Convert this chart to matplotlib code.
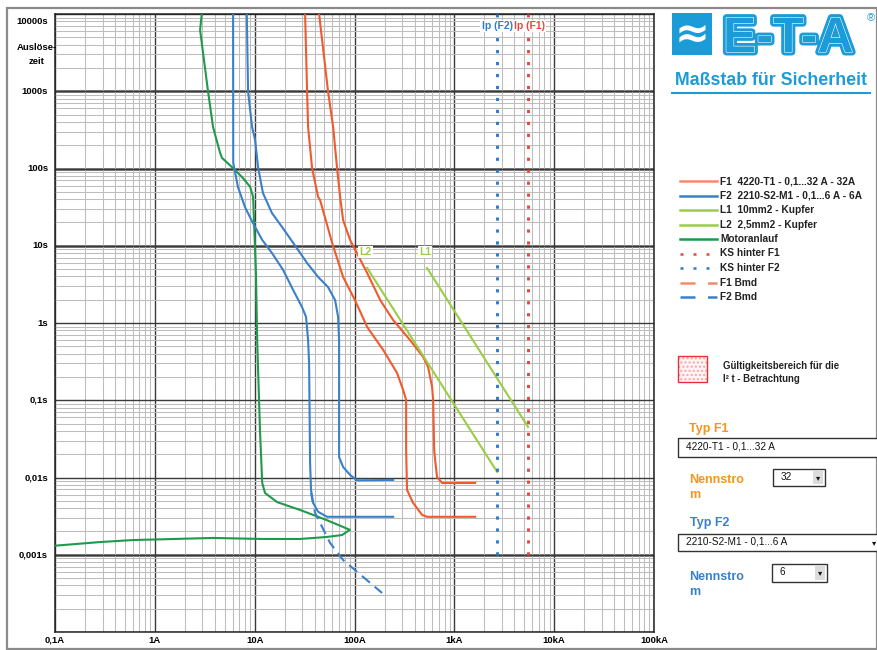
import matplotlib
matplotlib.use('Agg')
import matplotlib.pyplot as plt
from matplotlib.patches import Rectangle
from matplotlib.lines import Line2D
import matplotlib.transforms as mtransforms
import matplotlib.patheffects as pe

plt.rcParams['font.family'] = ['Liberation Sans', 'DejaVu Sans']

# ---- data (current in A, time in s) ----
motor_I = [2.95, 2.84, 3.41, 3.83, 4.5, 4.71, 6.08, 7.65, 9.0, 9.64, 9.86, 10.3, 10.6, 11.3,
           11.9, 12.7, 16.8, 28.5, 53.0, 90.0, 75.0, 53.0, 28.5, 12.1, 3.83, 0.605, 0.283, 0.093]
motor_t = [10000, 6200, 1000, 344, 160, 137, 101, 75, 58, 43, 20, 4.4, 0.6, 0.041,
           0.0085, 0.0063, 0.0048, 0.0038, 0.0028, 0.0021, 0.0018, 0.0017, 0.0016, 0.0016,
           0.00165, 0.00155, 0.00146, 0.0013]

f2_min_I = [6.08, 6.1, 6.8, 8.0, 9.6, 11.9, 14.9, 19.3, 24.3, 29.8, 32.7, 34.3, 35.1, 35.9,
            36.7, 38.5, 43.2, 53.0, 244]
f2_min_t = [10000, 118, 57.6, 31.7, 19.7, 11.9, 8.05, 4.85, 2.67, 1.61, 1.2, 0.6, 0.3, 0.0154,
            0.0069, 0.0047, 0.0036, 0.0031, 0.0031]
f2_max_I = [8.34, 8.59, 9.42, 10.1, 10.8, 12.1, 14.9, 18.8, 24.3, 33.5, 43.2, 54.3, 63.9, 68.5,
            70.1, 70.1, 76.9, 90.3, 106, 244]
f2_max_t = [10000, 1000, 344, 234, 105, 48.2, 26.5, 17.5, 10.9, 5.98, 3.94, 2.92, 1.98, 1.2,
            0.6, 0.0184, 0.0137, 0.0108, 0.0092, 0.0093]
f2_bmd_I = [36.7, 40.3, 57.0, 76.9, 189]
f2_bmd_t = [0.0063, 0.00347, 0.00142, 0.000855, 0.00032]

f1_min_I = [32.0, 33.5, 34.3, 37.6, 43.2, 45.2, 59.7, 76.9, 101, 134, 194, 267, 307, 329,
            329, 336, 386, 476, 534, 1616]
f1_min_t = [10000, 1000, 344, 101, 42.8, 39.1, 10.9, 3.94, 1.98, 0.887, 0.447, 0.225, 0.136,
            0.101, 0.0227, 0.0069, 0.0047, 0.00327, 0.0031, 0.0031]
f1_max_I = [44.2, 54.3, 61.1, 66.9, 71.8, 76.9, 90.3, 134, 181, 244, 361, 487, 546, 599, 613,
            628, 642, 672, 754, 1616]
f1_max_t = [10000, 1000, 344, 101, 42.8, 21.5, 11.9, 4.43, 1.98, 1.09, 0.6, 0.363, 0.269,
            0.148, 0.101, 0.0227, 0.0169, 0.0101, 0.0085, 0.0085]

l1_I = [533, 5480]
l1_t = [5.15, 0.045]
l2_I = [134, 2685]
l2_t = [5.15, 0.0118]

ip_f2 = 2685
ip_f1 = 5480
ip_t = [0.001, 10000]

x_ticks = [0.1, 1, 10, 100, 1000, 10000, 100000]
x_labels = ['0,1A', '1A', '10A', '100A', '1kA', '10kA', '100kA']
y_ticks = [10000, 1000, 100, 10, 1, 0.1, 0.01, 0.001]
y_labels = ['10000s', '1000s', '100s', '10s', '1s', '0,1s', '0,01s', '0,001s']

legend_labels = ['F1  4220-T1 - 0,1...32 A - 32A', 'F2  2210-S2-M1 - 0,1...6 A - 6A',
                 'L1  10mm2 - Kupfer', 'L2  2,5mm2 - Kupfer', 'Motoranlauf',
                 'KS hinter F1', 'KS hinter F2', 'F1 Bmd', 'F2 Bmd']

RED = '#f05a2c'
RED_LIGHT = '#f5896a'
BLUE = '#3a80c9'
GREEN = '#1f9a4c'
LGREEN = '#9bcd45'
DOT_RED = '#e8473b'
DOT_BLUE = '#2b7bd0'
ORANGE = '#f7941d'
LOGO = '#1b9bd7'

legend_styles = [(RED_LIGHT, '-'), (BLUE, '-'), (LGREEN, '-'), (LGREEN, '-'), (GREEN, '-'),
                 (DOT_RED, (0, (1.2, 4))), (DOT_BLUE, (0, (1.2, 4))),
                 (RED_LIGHT, (0, (6, 5))), (BLUE, (0, (6, 5)))]

W, H = 878, 650


def fx(px):
    return px / W


def fy(py):
    return 1 - py / H


fig = plt.figure(figsize=(8.78, 6.5), dpi=100)
ax = fig.add_axes([fx(55), fy(632), fx(654) - fx(55), fy(14) - fy(632)])
ax.set_xscale('log')
ax.set_yscale('log')
ax.set_xlim(0.1, 1e5)
ax.set_ylim(1e-4, 1e4)
ax.grid(which='minor', color='#bdbdbd', lw=0.75)
ax.grid(which='major', color='#3a3a3a', lw=1.0)
for yv in [1000, 100, 10, 0.001]:
    ax.axhline(yv, color='#666666', lw=1.9, zorder=0.5)
ax.set_axisbelow(True)
ax.tick_params(which='both', length=0, labelbottom=False, labelleft=False)
for s in ax.spines.values():
    s.set_color('#222222')
    s.set_linewidth(1.1)

# curves
lw = 1.5
ax.plot(motor_I, motor_t, color=GREEN, lw=lw, zorder=3)
ax.plot(f2_min_I, f2_min_t, color=BLUE, lw=lw, zorder=3)
ax.plot(f2_max_I, f2_max_t, color=BLUE, lw=lw, zorder=3)
ax.plot(f2_bmd_I, f2_bmd_t, color=BLUE, lw=lw, ls=(0, (5, 3)), zorder=3)
ax.plot(f1_min_I, f1_min_t, color=RED, lw=lw, zorder=3)
ax.plot(f1_max_I, f1_max_t, color=RED, lw=lw, zorder=3)
ax.plot(l1_I, l1_t, color=LGREEN, lw=lw, zorder=3)
ax.plot(l2_I, l2_t, color=LGREEN, lw=lw, zorder=3)
ax.plot([ip_f2, ip_f2], ip_t, color=DOT_BLUE, lw=2.1, ls=(0, (1.1, 3.0)), zorder=3)
ax.plot([ip_f1, ip_f1], ip_t, color=DOT_RED, lw=2.1, ls=(0, (1.1, 3.0)), zorder=3)

bbox_w = dict(facecolor='white', edgecolor='none', pad=1.0)
ax.text(128, 8.3, 'L2', color=LGREEN, fontsize=7.5, fontweight='bold', ha='center',
        va='center', bbox=bbox_w, zorder=4)
ax.text(509, 8.3, 'L1', color=LGREEN, fontsize=7.5, fontweight='bold', ha='center',
        va='center', bbox=bbox_w, zorder=4)
ax.text(ip_f2, 7000, 'Ip (F2)', color=DOT_BLUE, fontsize=7.5, fontweight='bold', ha='center',
        va='center', bbox=bbox_w, zorder=4)
ax.text(ip_f1 * 1.03, 7000, 'Ip (F1)', color=DOT_RED, fontsize=7.5, fontweight='bold',
        ha='center', va='center', bbox=bbox_w, zorder=4)

# axis labels
ty = mtransforms.blended_transform_factory(ax.transAxes, ax.transData)
for v, lab in zip(y_ticks, y_labels):
    va = 'top' if v == 10000 else 'center'
    oy = -3 / 100 if v == 10000 else 0
    t = ty + mtransforms.ScaledTranslation(-7 / 100, oy, fig.dpi_scale_trans)
    ax.text(0, v, lab, transform=t, ha='right', va=va, fontsize=6.8, fontweight='bold')
tx = mtransforms.blended_transform_factory(ax.transData, ax.transAxes)
for v, lab in zip(x_ticks, x_labels):
    t = tx + mtransforms.ScaledTranslation(0, -4 / 100, fig.dpi_scale_trans)
    ax.text(v, 0, lab, transform=t, ha='center', va='top', fontsize=6.8, fontweight='bold')
fig.text(fx(37), fy(47), 'Auslöse-', ha='center', va='center', fontsize=6.8, fontweight='bold')
fig.text(fx(37), fy(62), 'zeit', ha='center', va='center', fontsize=6.8, fontweight='bold')

# outer frame
fig.patches.append(Rectangle((fx(7), fy(649)), fx(877) - fx(7), fy(8) - fy(649),
                             transform=fig.transFigure, fill=False, edgecolor='#8a8a8a',
                             lw=1.6))

# logo
fig.patches.append(Rectangle((fx(672), fy(55)), fx(712) - fx(672), fy(13) - fy(55),
                             transform=fig.transFigure, facecolor=LOGO, edgecolor='none'))
fig.text(fx(692), fy(35), '≈', color='white', fontsize=30, fontweight='bold',
         ha='center', va='center', family='DejaVu Sans')
fig.text(fx(723), fy(52), 'E-T-A', color=LOGO, fontsize=36, fontweight='bold',
         ha='left', va='baseline',
         path_effects=[pe.withStroke(linewidth=5, foreground=LOGO),
                       pe.withStroke(linewidth=0.8, foreground='white')])
fig.text(fx(871), fy(18), '®', color=LOGO, fontsize=8, ha='center', va='center')
fig.text(fx(771), fy(85), 'Maßstab für Sicherheit', color=LOGO, fontsize=12.8,
         fontweight='bold', ha='center', va='baseline')
fig.lines.append(Line2D([fx(672), fx(870)], [fy(93), fy(93)], transform=fig.transFigure,
                        color=LOGO, lw=1.5))

# legend
for i, (lab, (c, ls)) in enumerate(zip(legend_labels, legend_styles)):
    yy = fy(181 + i * 14.5)
    fig.lines.append(Line2D([fx(680), fx(717)], [yy, yy], transform=fig.transFigure,
                            color=c, lw=1.8, ls=ls))
    fig.text(fx(720), yy, lab, fontsize=7.3, fontweight='bold', ha='left', va='center',
             color='#222222')

# validity box
fig.patches.append(Rectangle((fx(678), fy(382)), fx(707) - fx(678), fy(356) - fy(382),
                             transform=fig.transFigure, facecolor='#fff3f3',
                             edgecolor='#f2a8a8', lw=0, hatch='....'))
fig.patches.append(Rectangle((fx(678), fy(382)), fx(707) - fx(678), fy(356) - fy(382),
                             transform=fig.transFigure, fill=False, edgecolor='#e8303a',
                             lw=1.0))
fig.text(fx(723), fy(366), 'Gültigkeitsbereich für die', fontsize=6.9, fontweight='bold',
         ha='left', va='center', color='#222222')
fig.text(fx(723), fy(379), 'I² t - Betrachtung', fontsize=6.9, fontweight='bold',
         ha='left', va='center', color='#222222')


def combo(x0, y0, x1, y1, text, arrow_x=None):
    fig.patches.append(Rectangle((fx(x0), fy(y1)), fx(x1) - fx(x0), fy(y0) - fy(y1),
                                 transform=fig.transFigure, facecolor='white',
                                 edgecolor='#333333', lw=1.0))
    fig.text(fx(x0 + 8), fy((y0 + y1) / 2 - 1), text, fontsize=7.2, ha='left', va='center',
             color='#111111')
    if arrow_x is not None:
        fig.patches.append(Rectangle((fx(arrow_x), fy(y1 - 2)), fx(x1 - 2) - fx(arrow_x),
                                     fy(y0 + 2) - fy(y1 - 2), transform=fig.transFigure,
                                     facecolor='#dcdcdc', edgecolor='none'))
        fig.text(fx((arrow_x + x1 - 2) / 2), fy((y0 + y1) / 2), '▾', fontsize=6,
                 ha='center', va='center', family='DejaVu Sans', color='#111111')


fig.text(fx(689), fy(429), 'Typ F1', fontsize=9, fontweight='bold', color=ORANGE,
         ha='left', va='center')
combo(678, 438, 884, 457, '4220-T1 - 0,1...32 A')
fig.text(fx(689), fy(480), 'Nennstro', fontsize=9, fontweight='bold', color=ORANGE,
         ha='left', va='center')
fig.text(fx(689), fy(495), 'm', fontsize=9, fontweight='bold', color=ORANGE,
         ha='left', va='center')
combo(773, 469, 825, 486, '32', arrow_x=813)

fig.text(fx(690), fy(523), 'Typ F2', fontsize=9, fontweight='bold', color=BLUE,
         ha='left', va='center')
combo(678, 534, 884, 551, '2210-S2-M1 - 0,1...6 A')
fig.text(fx(874), fy(542.5), '▾', fontsize=6, ha='center', va='center',
         family='DejaVu Sans', color='#111111')
fig.text(fx(689), fy(577), 'Nennstro', fontsize=9, fontweight='bold', color=BLUE,
         ha='left', va='center')
fig.text(fx(689), fy(592), 'm', fontsize=9, fontweight='bold', color=BLUE,
         ha='left', va='center')
combo(772, 564, 827, 582, '6', arrow_x=815)

fig.savefig('out.png', dpi=100)
